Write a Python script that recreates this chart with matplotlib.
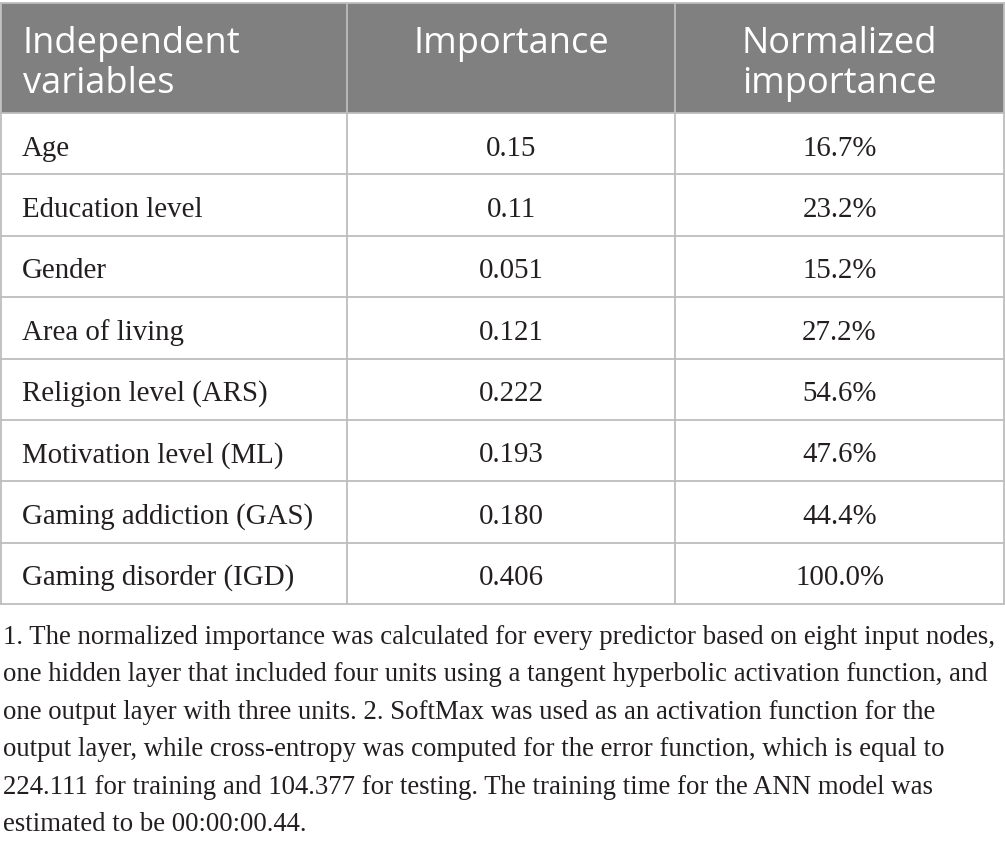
import matplotlib
matplotlib.use("Agg")
import matplotlib.pyplot as plt
from matplotlib.patches import Rectangle

# ---- data ----
header_labels = [["Independent", "variables"], ["Importance"], ["Normalized", "importance"]]
variables = ["Age", "Education level", "Gender", "Area of living",
             "Religion level (ARS)", "Motivation level (ML)",
             "Gaming addiction (GAS)", "Gaming disorder (IGD)"]
importance = ["0.15", "0.11", "0.051", "0.121", "0.222", "0.193", "0.180", "0.406"]
normalized = ["16.7%", "23.2%", "15.2%", "27.2%", "54.6%", "47.6%", "44.4%", "100.0%"]
footnote_lines = [
    "1. The normalized importance was calculated for every predictor based on eight input nodes,",
    "one hidden layer that included four units using a tangent hyperbolic activation function, and",
    "one output layer with three units. 2. SoftMax was used as an activation function for the",
    "output layer, while cross-entropy was computed for the error function, which is equal to",
    "224.111 for training and 104.377 for testing. The training time for the ANN model was",
    "estimated to be 00:00:00.44.",
]

# ---- layout (pixel space) ----
W, H = 1005, 845
fig = plt.figure(figsize=(W / 100, H / 100), dpi=100)
ax = fig.add_axes([0, 0, 1, 1])
ax.set_xlim(0, W)
ax.set_ylim(H, 0)
ax.axis("off")

HEAD_COL = "#808080"
LINE_COL = "#bdbdbd"
TEXT_COL = "#231f20"
SERIF = ["Liberation Serif", "DejaVu Serif"]
SANS = ["Open Sans", "DejaVu Sans"]

col_x = [1, 347, 675, 1004]
top = 4
head_bot = 114
row_h = (605 - head_bot) / len(variables)

renderer = fig.canvas.get_renderer()


def fit_size(text, family, target_w, base=20):
    t = ax.text(0, 0, text, fontsize=base, family=family)
    w = t.get_window_extent(renderer=renderer).width
    t.remove()
    return base * target_w / w

head_fs = fit_size("Independent", SANS, 217)
body_fs = fit_size("Gaming disorder (IGD)", SERIF, 273)
foot_fs = fit_size(footnote_lines[0], SERIF, 990)

# header background
ax.add_patch(Rectangle((col_x[0], top), col_x[-1] - col_x[0], head_bot - top,
                       facecolor=HEAD_COL, edgecolor="none", zorder=1))

# header text
base1, base2 = 53, 93
for j, lines in enumerate(header_labels):
    for k, s in enumerate(lines):
        if j == 0:
            x, ha = 23, "left"
        else:
            x, ha = (col_x[j] + col_x[j + 1]) / 2, "center"
        ax.text(x, base1 if k == 0 else base2, s, fontsize=head_fs, family=SANS,
                color="white", ha=ha, va="baseline", zorder=3)

# body text
for i in range(len(variables)):
    y = head_bot + row_h * i + 41.5
    ax.text(22, y, variables[i], fontsize=body_fs, family=SERIF, color=TEXT_COL,
            ha="left", va="baseline", zorder=3)
    ax.text((col_x[1] + col_x[2]) / 2, y, importance[i], fontsize=body_fs, family=SERIF,
            color=TEXT_COL, ha="center", va="baseline", zorder=3)
    ax.text((col_x[2] + col_x[3]) / 2, y, normalized[i], fontsize=body_fs, family=SERIF,
            color=TEXT_COL, ha="center", va="baseline", zorder=3)

# grid lines
lw = 1.3
bottom = head_bot + row_h * len(variables)
ax.plot([col_x[0], col_x[-1]], [top, top], color=LINE_COL, lw=lw, zorder=2)
for i in range(len(variables) + 1):
    y = head_bot + row_h * i
    ax.plot([col_x[0], col_x[-1]], [y, y], color=LINE_COL, lw=lw, zorder=2)
for x in col_x:
    ax.plot([x, x], [top, bottom], color=LINE_COL, lw=lw, zorder=2)

# footnote
for k, s in enumerate(footnote_lines):
    ax.text(3, 644 + 37.4 * k, s, fontsize=foot_fs, family=SERIF, color=TEXT_COL,
            ha="left", va="baseline", zorder=3)

fig.savefig("out.png", dpi=100, facecolor="white")
